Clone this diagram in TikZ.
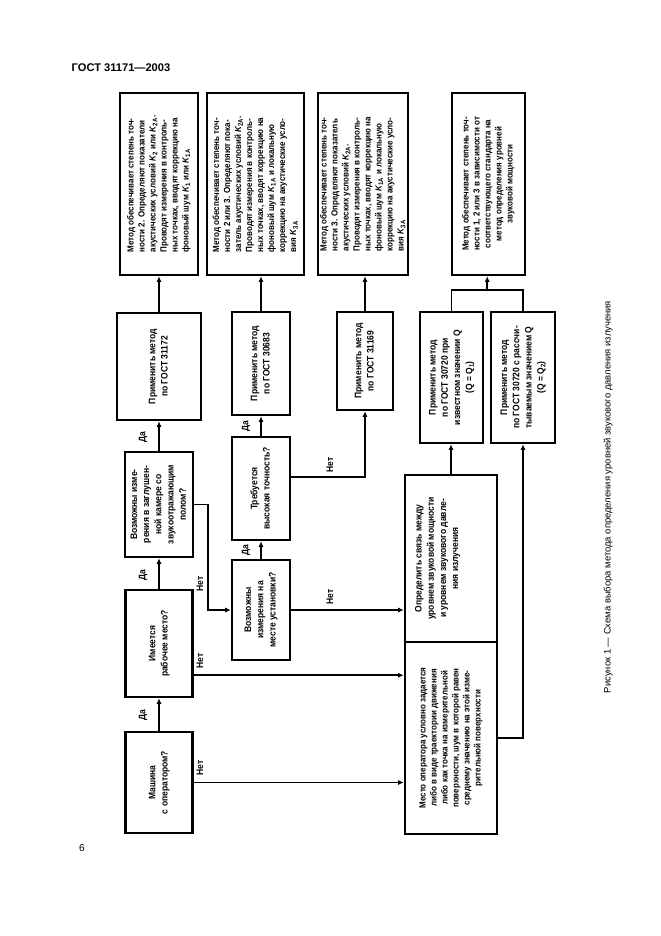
\documentclass[tikz,border=0pt]{standalone}
\usepackage{fontspec}
\setmainfont{Liberation Sans}
\newfontfamily\boxfont{Liberation Sans}[FakeStretch=0.9]
\usetikzlibrary{arrows.meta,calc}

% rotated text blocks (the sheet is turned by 90 degrees)
\newcommand\rt[1]{\rotatebox{90}{\begin{tabular}{@{}c@{}}#1\end{tabular}}}
\newcommand\rtl[1]{\rotatebox{90}{\begin{tabular}{@{}l@{}}#1\end{tabular}}}
\newcommand\KK[1]{\textit{K}\textsubscript{#1}}

\tikzset{
  box/.style={draw, line width=2.2pt, inner sep=0pt,
    font=\boxfont\bfseries\fontsize{8.5}{11}\selectfont},
  dense/.style={font=\boxfont\bfseries\fontsize{8}{9.9}\selectfont},
  sz/.style 2 args={minimum width=#1*0.9pt, minimum height=#2*0.9pt},
  boxtext/.style={inner sep=0pt, font=\boxfont\bfseries\fontsize{8.5}{11}\selectfont},
  lab/.style={rotate=90, inner sep=0pt, font=\boxfont\bfseries\fontsize{8.5}{10}\selectfont},
  wire/.style={line width=1.6pt},
  arr/.style={wire, -{Latex[length=5pt,width=4.5pt]}}
}

\begin{document}
\begin{tikzpicture}[x=0.9pt, y=-0.9pt]
  \fill[white] (0,0) rectangle (661,936);
  \useasboundingbox (0,0) rectangle (661,936);

  \node[font=\bfseries\fontsize{10}{12}\selectfont] (title) at (121,68) {ГОСТ 31171—2003};
  \node[font=\fontsize{9}{11}\selectfont] (pnum) at (82,848) {6};
  \node[rotate=90, font=\fontsize{8.5}{10}\selectfont] (cap) at (608,497)
    {Рисунок 1 — Схема выбора метода определения уровней звукового давления излучения};

  % results
  \node[box, dense, sz={78}{182}] (A1) at (159,184) {\rtl{Метод обеспечивает степень точ-\\ности 2. Определяют показатели\\акустических условий \KK{2} или \KK{2A}.\\Проводят измерения в контроль-\\ных точках, вводят коррекцию на\\фоновый шум \KK{1} или \KK{1A}}};
  \node[box, dense, sz={97}{182}] (A2) at (255.5,184) {\rtl{Метод обеспечивает степень точ-\\ности 2 или 3. Определяют пока-\\затель акустических условий \KK{2A}.\\Проводят измерения в контроль-\\ных точках, вводят коррекцию на\\фоновый шум \KK{1A} и локальную\\коррекцию на акустические усло-\\вия \KK{3A}}};
  \node[box, dense, sz={90}{182}] (A3) at (363,184) {\rtl{Метод обеспечивает степень точ-\\ности 3. Определяют показатель\\акустических условий \KK{2A}.\\Проводят измерения в контроль-\\ных точках, вводят коррекцию на\\фоновый шум \KK{1A} и локальную\\коррекцию на акустические усло-\\вия \KK{3A}}};
  \node[box, dense, sz={73}{182}] (A4) at (488.5,184) {\rt{Метод обеспечивает степень точ-\\ности 1, 2 или 3 в зависимости от\\соответствующего стандарта на\\метод определения уровней\\звуковой мощности}};

  % methods
  \node[box, sz={84}{107}] (B1) at (159,366.5) {\rt{Применить метод\\по ГОСТ 31172}};
  \node[box, sz={58}{103}] (B2) at (261,363.5) {\rt{Применить метод\\по ГОСТ 30683}};
  \node[box, sz={56}{98}] (B3) at (365,361) {\rt{Применить метод\\по ГОСТ 31169}};
  \node[box, sz={63}{131}] (B4) at (451.5,377.5) {\rt{Применить метод\\по ГОСТ 30720 при\\известном значении Q\\(Q = Q\textsubscript{1})}};
  \node[box, sz={64}{131}] (B5) at (523,377.5) {\rt{Применить метод\\по ГОСТ 30720 с рассчи-\\тываемым значением Q\\(Q = Q\textsubscript{2})}};

  % questions
  \node[box, sz={68}{105}] (C1) at (159,504.5) {\rt{Возможны изме-\\рения в заглушен-\\ной камере со\\звукоотражающим\\полом?}};
  \node[box, sz={58}{103}] (C2) at (261,488.5) {\rt{Требуется\\высокая точность?}};
  \node[box, sz={58}{100}] (D) at (261,610) {\rt{Возможны\\измерения на\\месте установки?}};
  \node[box, sz={67}{107}] (E1) at (159,643.5) {\rt{Имеется\\рабочее место?}};
  \node[box, sz={67}{101}] (F1) at (159,782.5) {\rt{Машина\\с оператором?}};

  \node[box, sz={92}{167}] (G) at (451,558.5) {};
  \node[boxtext, anchor=west] (Gt) at ($(G.west)+(9,0)$) {\rt{Определить связь между\\уровнем звуковой мощности\\и уровнем звукового давле-\\ния излучения}};
  \node[box, dense, sz={92}{192}] (H) at (451,738) {\rt{Место оператора условно задается\\либо в виде траектории движения\\либо как точка на измерительной\\поверхности, шум в которой равен\\среднему значению на этой изме-\\рительной поверхности}};

  % yes branch
  \draw[arr] (F1) -- (E1);
  \draw[arr] (E1) -- (C1);
  \draw[arr] (C1) -- (B1);
  \draw[arr] (B1) -- (A1);
  \draw[arr] (D) -- (C2);
  \draw[arr] (C2) -- (B2);
  \draw[arr] (B2.north) -- (B2.north |- A2.south);
  \draw[arr] (B3.north) -- (B3.north |- A3.south);
  \draw[arr] (G.north) -- (G.north |- B4.south);
  \draw[wire] (B4.north) |- ($(B5.north)+(0,-21)$) -- (B5.north);
  \coordinate (jn) at ($(B4.north)!0.5!(B5.north)+(0,-21)$);
  \draw[arr] (jn) -- (jn |- A4.south);

  % no branch
  \draw[arr] (F1.east) -- (F1.east -| H.west);
  \draw[arr] ($(E1.north east)!0.79!(E1.south east)$) coordinate (eno) -- (eno -| H.west);
  \draw[arr] (C1.east) -- ++(14,0) |- (D.west);
  \draw[arr] (D.east) -- (D.east -| G.west);
  \draw[arr] ($(C2.north east)!0.39!(C2.south east)$) -| (B3.south);
  \draw[arr] (H.east) -| (B5.south);

  \node[lab] (daF) at (143,715) {Да};
  \node[lab] (daE) at (143,575) {Да};
  \node[lab] (daC) at (143,437) {Да};
  \node[lab] (daD) at (246,550) {Да};
  \node[lab] (daC2) at (246,426) {Да};
  \node[lab] (netF) at (200,768) {Нет};
  \node[lab] (netE) at (200,661) {Нет};
  \node[lab] (netC) at (200,584) {Нет};
  \node[lab] (netD) at (330,597) {Нет};
  \node[lab] (netC2) at (330,465) {Нет};
\end{tikzpicture}
\end{document}
